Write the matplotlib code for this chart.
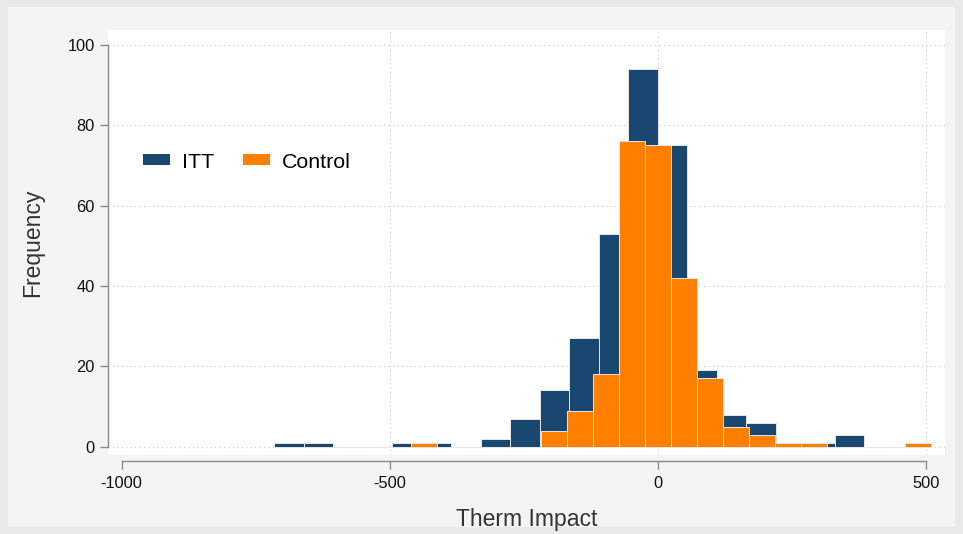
import matplotlib
matplotlib.use('Agg')
import matplotlib.pyplot as plt
from matplotlib.patches import Patch, Rectangle

plt.rcParams['font.family'] = ['Liberation Sans', 'DejaVu Sans']
plt.rcParams['axes.unicode_minus'] = False

# histogram bins (start, width) and counts
itt_start, itt_width = -715, 55
itt_counts = [1, 1, 0, 0, 1, 1, 0, 2, 7, 14, 27, 53, 94, 75, 19, 8, 6, 1, 1, 3]
ctrl_start, ctrl_width = -461, 48.5
ctrl_counts = [1, 0, 0, 0, 0, 4, 9, 18, 76, 75, 42, 17, 5, 3, 1, 1, 0, 0, 0, 1]

x_ticks = [-1000, -500, 0, 500]
x_grid = [-500, 0, 500]
y_ticks = [0, 20, 40, 60, 80, 100]

itt_color = '#1a476f'
ctrl_color = '#ff8000'

W, H = 963, 534
fig = plt.figure(figsize=(W / 100, H / 100), dpi=100, facecolor='#e9e9e9')
fig.patches.append(Rectangle((8 / W, 7 / H), 947 / W, 520 / H, transform=fig.transFigure,
                             facecolor='#f4f4f4', edgecolor='none', zorder=-10))
ax = fig.add_axes([108 / W, 1 - 455 / H, (945 - 108) / W, (455 - 30) / H])
ax.set_zorder(1)
ax.set_facecolor('white')

itt_left = [itt_start + i * itt_width for i in range(len(itt_counts))]
ctrl_left = [ctrl_start + i * ctrl_width for i in range(len(ctrl_counts))]
ax.bar(itt_left, itt_counts, width=itt_width, align='edge', color=itt_color,
       edgecolor='#e6e6e6', linewidth=0.7, zorder=2, label='ITT')
ax.bar(ctrl_left, ctrl_counts, width=ctrl_width, align='edge', color=ctrl_color,
       edgecolor='#e6e6e6', linewidth=0.7, zorder=3, label='Control')

ax.set_xlim(-1025.4, 535.4)
ax.set_ylim(-2.07, 103.7)

ax.set_yticks(y_ticks)
ax.set_xticks(x_ticks)
ax.yaxis.grid(True, color='#cccccc', linestyle=(0, (1, 3)), linewidth=0.8)
for v in x_grid:
    ax.axvline(v, color='#cccccc', linestyle=(0, (1, 3)), linewidth=0.8, zorder=1)
ax.set_axisbelow(True)

for s in ['top', 'right']:
    ax.spines[s].set_visible(False)
ax.spines['left'].set_bounds(0, 100)
ax.spines['bottom'].set_bounds(-1000, 500)
ax.spines['bottom'].set_position(('outward', 4.3))
for s in ['left', 'bottom']:
    ax.spines[s].set_color('#8a8a8a')
    ax.spines[s].set_linewidth(1.0)

ax.tick_params(axis='both', colors='#8a8a8a', length=6, width=1.0, labelsize=11.8,
               labelcolor='#111111', pad=3.5)
ax.tick_params(axis='x', pad=5)

ax.set_xlabel('Therm Impact', fontsize=16.5, color='#333333', labelpad=12)
ax.set_ylabel('Frequency', fontsize=16.5, color='#333333', labelpad=17)

handles = [Patch(facecolor=itt_color, edgecolor='none'),
           Patch(facecolor=ctrl_color, edgecolor='none')]
ax.legend(handles, ['ITT', 'Control'], ncol=2, frameon=False, fontsize=15.4,
          loc='center left', bbox_to_anchor=(143 / W, 1 - 162 / H),
          bbox_transform=fig.transFigure, borderpad=0, borderaxespad=0,
          handlelength=1.26, handleheight=0.42, handletextpad=0.55,
          columnspacing=1.38)

fig.savefig('out.png', dpi=100, facecolor=fig.get_facecolor())
